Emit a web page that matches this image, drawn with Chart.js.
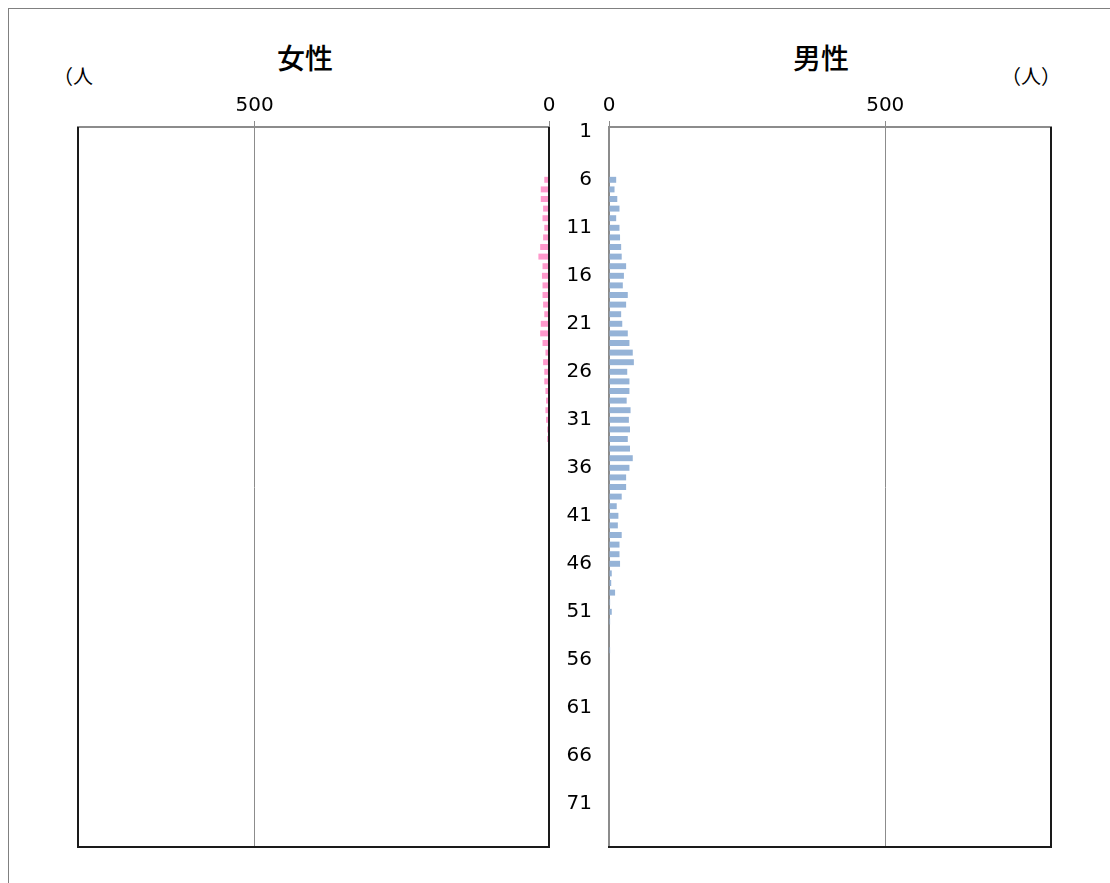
<!DOCTYPE html>
<html>
<head>
<meta charset="utf-8">
<script src="https://cdn.jsdelivr.net/npm/chart.js@4.4.0/dist/chart.umd.min.js"></script>
<style>
  html, body { margin: 0; padding: 0; background: #fff; }
  body { width: 1110px; height: 883px; position: relative; overflow: hidden;
         font-family: 'Noto Sans CJK JP', 'Noto Sans', sans-serif; color: #000; }
  .frame { position: absolute; left: 8px; top: 8px; width: 1200px; height: 1000px;
           border-left: 1px solid #808080; border-top: 1px solid #808080; }
  .box { position: absolute; }
  .title { position: absolute; font-size: 28px; font-weight: 500; line-height: 1; }
  .unit { position: absolute; font-size: 20px; line-height: 1; }
</style>
</head>
<body>
<div class="frame"></div>
<div class="title" style="left:277px; top:43px;">女性</div>
<div class="title" style="left:793px; top:43px;">男性</div>
<div class="unit" style="left:53px; top:66px;">（人</div>
<div class="unit" style="left:1001px; top:66px;">（人）</div>
<div class="box" style="left:60px; top:90px; width:500px; height:770px;"><canvas id="female"></canvas></div>
<div class="box" style="left:555px; top:90px; width:510px; height:770px;"><canvas id="male"></canvas></div>

<script>
/* ── Data ── */
const ages = [
   1,  2,  3,  4,  5,  6,  7,  8,  9, 10, 11, 12, 13, 14, 15,
  16, 17, 18, 19, 20, 21, 22, 23, 24, 25, 26, 27, 28, 29, 30,
  31, 32, 33, 34, 35, 36, 37, 38, 39, 40, 41, 42, 43, 44, 45,
  46, 47, 48, 49, 50, 51, 52, 53, 54, 55, 56, 57, 58, 59, 60,
  61, 62, 63, 64, 65, 66, 67, 68, 69, 70, 71, 72, 73, 74, 75
];

const female = [
   0,  0,  0,  0,  0,  8, 14, 14, 10, 11,  8, 10, 15, 18, 11,
  12, 11, 11, 10,  8, 14, 15, 11,  6, 10,  8,  8,  6,  5,  6,
   5,  3,  3,  1,  1,  1,  1,  0,  1,  0,  0,  1,  1,  1,  0,
   1,  0,  1,  0,  0,  0,  0,  0,  0,  0,  0,  0,  0,  0,  0,
   0,  0,  0,  0,  0,  0,  0,  0,  0,  0,  0,  0,  0,  0,  0
];

const male = [
   0,  0,  0,  0,  0, 13, 10, 15, 19, 13, 19, 20, 22, 23, 31,
  27, 25, 34, 31, 22, 24, 34, 37, 43, 45, 33, 37, 37, 32, 39,
  36, 38, 34, 38, 43, 37, 31, 31, 23, 14, 17, 16, 23, 19, 19,
  20,  5,  4, 11,  2,  5,  2,  1,  1,  2,  0,  0,  0,  0,  0,
   0,  0,  0,  0,  0,  0,  0,  0,  0,  0,  0,  0,  0,  0,  0
];

const xTicks   = [0, 500];
const xMax     = 800;
const NUMFONT  = "'DejaVu Sans', sans-serif";
const PINK     = '#ff99cc';
const BLUE     = '#95b3d7';
const GRAY     = '#8c8c8c';
const BLACK    = '#1a1a1a';

/* ── Frame plugin: black edges of the plot box ── */
function framePlugin(sides) {
  return {
    id: 'frame',
    afterDraw(chart) {
      const a = chart.chartArea, ctx = chart.ctx;
      ctx.save();
      ctx.strokeStyle = BLACK;
      ctx.lineWidth = 2;
      ctx.beginPath();
      if (sides.includes('left'))   { ctx.moveTo(a.left, a.top);  ctx.lineTo(a.left, a.bottom); }
      if (sides.includes('bottom')) { ctx.moveTo(a.left - 1, a.bottom); ctx.lineTo(a.right + 1, a.bottom); }
      if (sides.includes('right'))  { ctx.moveTo(a.right, a.top); ctx.lineTo(a.right, a.bottom); }
      ctx.stroke();
      ctx.restore();
    }
  };
}

function xScale(reverse) {
  return {
    type: 'linear',
    position: 'top',
    reverse,
    min: 0,
    max: xMax,
    afterBuildTicks: s => { s.ticks = xTicks.map(v => ({ value: v })); },
    afterFit: s => { s.height = 37; },
    ticks: { color: '#000', padding: 3, font: { family: NUMFONT, size: 20 } },
    grid:  { color: GRAY, lineWidth: 1, drawTicks: true, tickLength: 6, tickColor: GRAY },
    border: { display: true, color: GRAY, width: 2 }
  };
}

const baseBar = {
  barPercentage: 0.62,
  categoryPercentage: 1.0,
  borderWidth: 0
};

new Chart(document.getElementById('female'), {
  type: 'bar',
  data: {
    labels: ages,
    datasets: [Object.assign({ label: '女性', data: female, backgroundColor: PINK }, baseBar)]
  },
  options: {
    indexAxis: 'y',
    responsive: true,
    maintainAspectRatio: false,
    animation: false,
    layout: { padding: { left: 18, right: 11, top: 0, bottom: 13 } },
    plugins: { legend: { display: false }, tooltip: { enabled: false } },
    scales: {
      x: xScale(true),
      y: { type: 'category', display: false, offset: true }
    }
  },
  plugins: [framePlugin(['left', 'bottom', 'right'])]
});

new Chart(document.getElementById('male'), {
  type: 'bar',
  data: {
    labels: ages,
    datasets: [Object.assign({ label: '男性', data: male, backgroundColor: BLUE }, baseBar)]
  },
  options: {
    indexAxis: 'y',
    responsive: true,
    maintainAspectRatio: false,
    animation: false,
    layout: { padding: { left: 0, right: 14, top: 0, bottom: 13 } },
    plugins: { legend: { display: false }, tooltip: { enabled: false } },
    scales: {
      x: xScale(false),
      y: {
        type: 'category',
        offset: true,
        afterFit: s => { s.width = 54; s.paddingTop = 0; s.paddingBottom = 0; },
        grid: { display: false, drawTicks: false },
        border: { display: true, color: GRAY, width: 2 },
        ticks: {
          autoSkip: false,
          padding: 17,
          color: '#000',
          font: { family: NUMFONT, size: 20 },
          callback: (v, i) => (i % 5 === 0 ? ages[i] : '')
        }
      }
    }
  },
  plugins: [framePlugin(['bottom', 'right'])]
});
</script>
</body>
</html>
